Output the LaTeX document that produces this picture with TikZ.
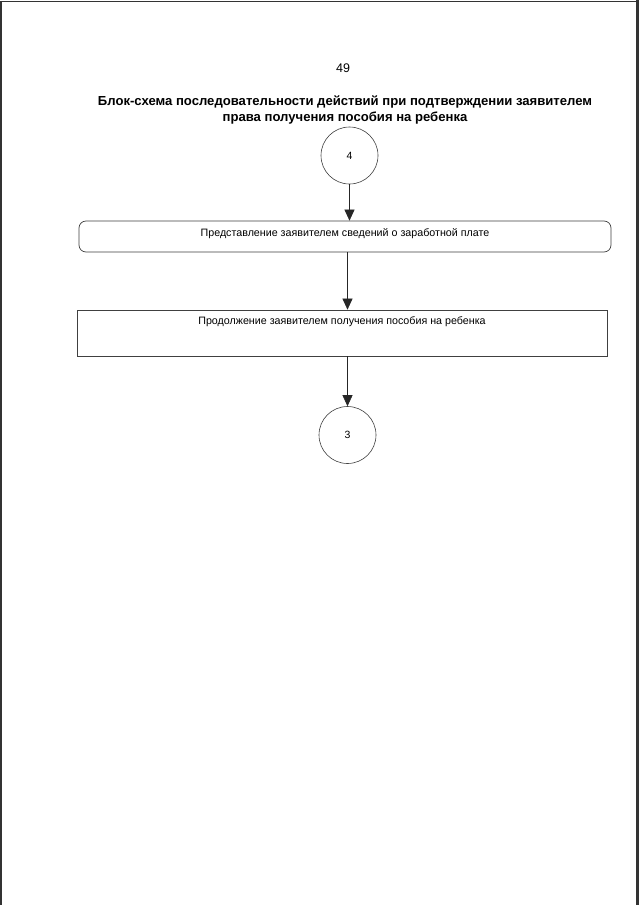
\documentclass[tikz,border=0pt]{standalone}
\usepackage{fontspec}
\setmainfont{Liberation Sans}
\usetikzlibrary{arrows.meta,calc}
\begin{document}
\begin{tikzpicture}[x=1pt,y=-1pt,
  frameline/.style={black!80},
  circnode/.style={draw=black!75, line width=0.6pt, circle, minimum size=57pt, inner sep=0pt, font=\fontsize{10.5}{12}\selectfont},
  boxnode/.style={draw=black!75, line width=0.7pt, inner sep=0pt},
  boxtext/.style={font=\fontsize{10.7}{12}\selectfont, inner sep=0pt, anchor=north},
  flowarrow/.style={draw=black!85, line width=0.6pt, -{Triangle[width=10pt,length=11pt]}},
  titletext/.style={font=\bfseries\fontsize{13.1}{16.2}\selectfont, align=center, inner sep=0pt}
]
\useasboundingbox (0,0) rectangle (640,905);
\fill[white] (0,0) rectangle (640,905);
% scan frame
\draw[frameline, line width=1.3pt] (1,905) -- (1,1.2) -- (637,1.2);
\draw[frameline, line width=2.6pt] (637.5,0) -- (637.5,905);

\node[font=\fontsize{12.5}{14}\selectfont, inner sep=0pt] (pnum) at (343,68) {49};
\node[titletext] (title) at (345,110) {Блок-схема последовательности действий при подтверждении заявителем\\права получения пособия на ребенка};

\node[circnode] (c4) at (349.5,155.5) {4};
\node[boxnode, rounded corners=7pt, minimum width=532pt, minimum height=31pt] (b1) at (345,236.5) {};
\node[boxtext] (t1) at ($(b1.north)+(0,7.5)$) {Представление заявителем сведений о заработной плате};
\node[boxnode, minimum width=530pt, minimum height=46pt] (b2) at (342,333) {};
\node[boxtext] (t2) at ($(b2.north)+(0,7)$) {Продолжение заявителем получения пособия на ребенка};
\node[circnode] (c3) at (347.5,435) {3};

\draw[flowarrow] (c4.south) -- (c4.south |- b1.north);
\draw[flowarrow] (b1.south -| c3.north) -- (b2.north -| c3.north);
\draw[flowarrow] (b2.south -| c3.north) -- (c3.north);
\end{tikzpicture}
\end{document}
